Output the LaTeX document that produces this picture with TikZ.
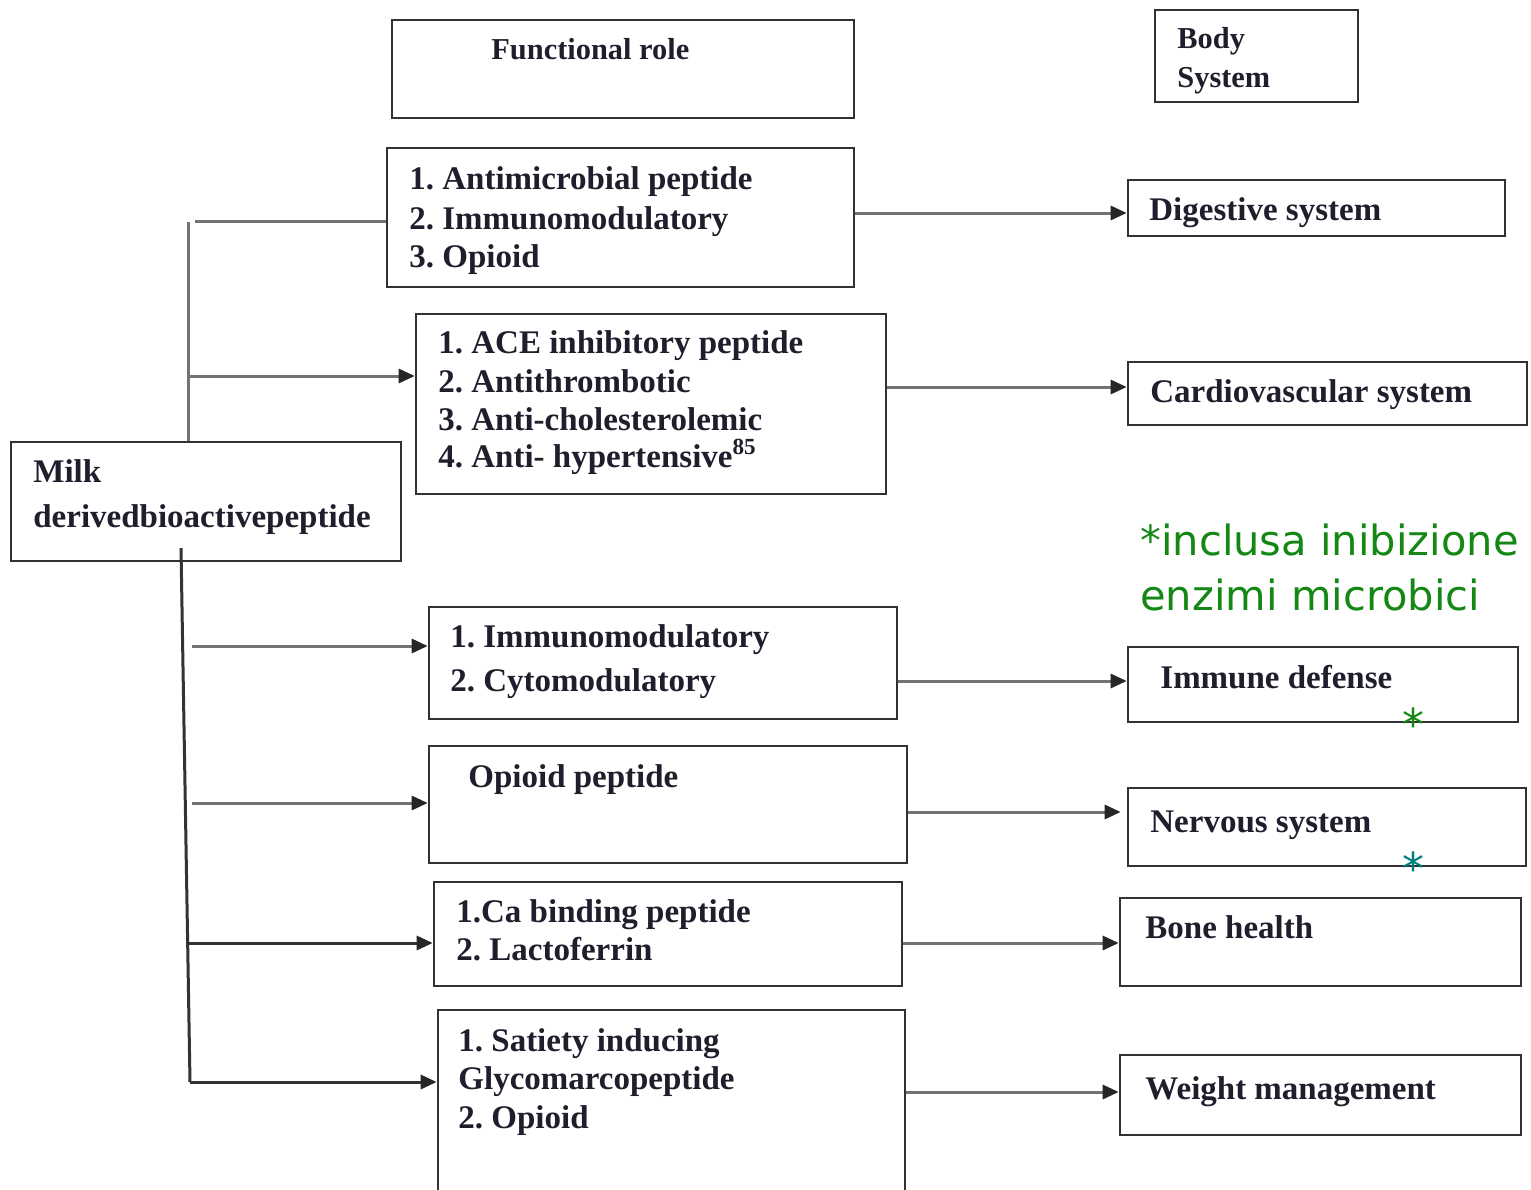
\documentclass[tikz,border=0pt]{standalone}
\usepackage{fontspec}
\setmainfont{Liberation Serif}
\newfontfamily\gfont{DejaVu Sans}
\usetikzlibrary{arrows.meta,fit,calc}
\frenchspacing
\definecolor{boxcol}{RGB}{50,50,50}
\definecolor{conncol}{RGB}{115,115,115}
\definecolor{txtcol}{RGB}{30,30,45}
\definecolor{notegreen}{RGB}{20,135,20}
\definecolor{noteteal}{RGB}{0,125,125}
\tikzset{
  box/.style={draw=boxcol,line width=1.3pt,inner sep=0pt,fit=#1},
  txt/.style={font=\fontsize{16.5}{19.5}\selectfont\bfseries,text=txtcol,inner sep=0pt,anchor=base west},
  hdr/.style={font=\fontsize{15.2}{18}\selectfont\bfseries,text=txtcol,inner sep=0pt,anchor=base west},
  conn/.style={draw=conncol,line width=1.5pt},
  arr/.style={conn,-{Triangle[length=8pt,width=7pt,color=black!85]}},
  note/.style={font=\gfont\fontsize{20.8}{25}\selectfont,text=notegreen,inner sep=0pt,anchor=base west},
  star/.style={font=\gfont\fontsize{22}{24}\selectfont,inner sep=0pt}
}
\newcommand\bbox[5]{\path (#2,#3) coordinate (#1-nw) (#4,#5) coordinate (#1-se);
  \node[box={(#1-nw)(#1-se)}] (#1) {};}
\newcommand\tline[5][txt]{\node[#1] (#2) at (#3,#4) {#5};}
\begin{document}
\begin{tikzpicture}[x=0.5pt,y=-0.5pt]
\useasboundingbox (0,0) rectangle (1531,1189);
% header boxes
\bbox{hf}{392}{20}{854}{118}
\tline[hdr]{hft}{491}{59}{Functional role}
\bbox{hb}{1155}{10}{1358}{102}
\tline[hdr]{hbt1}{1177}{48}{Body}
\tline[hdr]{hbt2}{1177}{87}{System}
% functional role boxes
\bbox{f1}{387}{148}{854}{287}
\tline{f1a}{409}{189}{1. Antimicrobial peptide}
\tline{f1b}{409}{229}{2. Immunomodulatory}
\tline{f1c}{409}{267}{3. Opioid}
\bbox{f2}{416}{314}{886}{494}
\tline{f2a}{438}{353}{1. ACE inhibitory peptide}
\tline{f2b}{438}{392}{2. Antithrombotic}
\tline{f2c}{438}{430}{3. Anti-cholesterolemic}
\tline{f2d}{438}{467}{4. Anti- hypertensive\textsuperscript{85}}
\bbox{milk}{11}{442}{401}{561}
\tline{mk1}{33}{482}{Milk}
\tline{mk2}{33}{527}{derivedbioactivepeptide}
\bbox{f3}{429}{607}{897}{719}
\tline{f3a}{450}{647}{1. Immunomodulatory}
\tline{f3b}{450}{691}{2. Cytomodulatory}
\bbox{f4}{429}{746}{907}{863}
\tline{f4a}{468}{787}{Opioid peptide}
\bbox{f5}{434}{882}{902}{986}
\tline{f5a}{456}{922}{1.Ca binding peptide}
\tline{f5b}{456}{960}{2. Lactoferrin}
\bbox{f6}{438}{1010}{905}{1205}
\tline{f6a}{458}{1051}{1. Satiety inducing}
\tline{f6b}{458}{1089}{Glycomarcopeptide}
\tline{f6c}{458}{1128}{2. Opioid}
% body system boxes
\bbox{b1}{1128}{180}{1505}{236}
\tline{b1t}{1149}{220}{Digestive system}
\bbox{b2}{1128}{362}{1527}{425}
\tline{b2t}{1150}{402}{Cardiovascular system}
\bbox{b3}{1128}{647}{1518}{722}
\tline{b3t}{1160}{688}{Immune defense}
\bbox{b4}{1128}{788}{1526}{866}
\tline{b4t}{1150}{832}{Nervous system}
\bbox{b5}{1120}{898}{1521}{986}
\tline{b5t}{1145}{938}{Bone health}
\bbox{b6}{1120}{1055}{1521}{1135}
\tline{b6t}{1145}{1099}{Weight management}
% note
\tline[note]{n1}{1140}{555}{*inclusa inibizione}
\tline[note]{n2}{1140}{610}{enzimi microbici}
\node[star,text=notegreen] (s1) at (1413,724) {*};
\node[star,text=noteteal] (s2) at (1413,868) {*};
% right-side connectors
\coordinate (r1) at (0,213);
\coordinate (r2) at (0,387);
\coordinate (r3) at (0,681);
\coordinate (r4) at (0,812);
\coordinate (r5) at (0,943);
\coordinate (r6) at (0,1092);
\draw[arr] (f1.east |- r1) -- (b1.west |- r1);
\draw[arr] (f2.east |- r2) -- (b2.west |- r2);
\draw[arr] (f3.east |- r3) -- (b3.west |- r3);
\draw[arr] (f4.east |- r4) -- ([xshift=-3pt]b4.west |- r4);
\draw[arr] (f5.east |- r5) -- (b5.west |- r5);
\draw[arr] (f6.east |- r6) -- (b6.west |- r6);
% left spine (upper)
\coordinate (su) at (188,222);
\coordinate (t1) at (195,221);
\coordinate (l2) at (188,376);
\draw[conn] (su) -- (su |- milk.north);
\draw[conn] (t1) -- (t1 -| f1.west);
\draw[arr] (l2) -- (l2 -| f2.west);
% left spine (lower)
\coordinate (sl1) at (181,548);
\coordinate (sl2) at (190,1082);
\coordinate (l3) at (192,646);
\coordinate (l4) at (192,803);
\coordinate (l5) at (188,943);
\draw[conn,draw=black!80] (sl1) -- (sl2);
\draw[arr,draw=black!80] (sl2) -- (sl2 -| f6.west);
\draw[arr] (l3) -- (l3 -| f3.west);
\draw[arr] (l4) -- (l4 -| f4.west);
\draw[arr,draw=black!80] (l5) -- (l5 -| f5.west);
\end{tikzpicture}
\end{document}
